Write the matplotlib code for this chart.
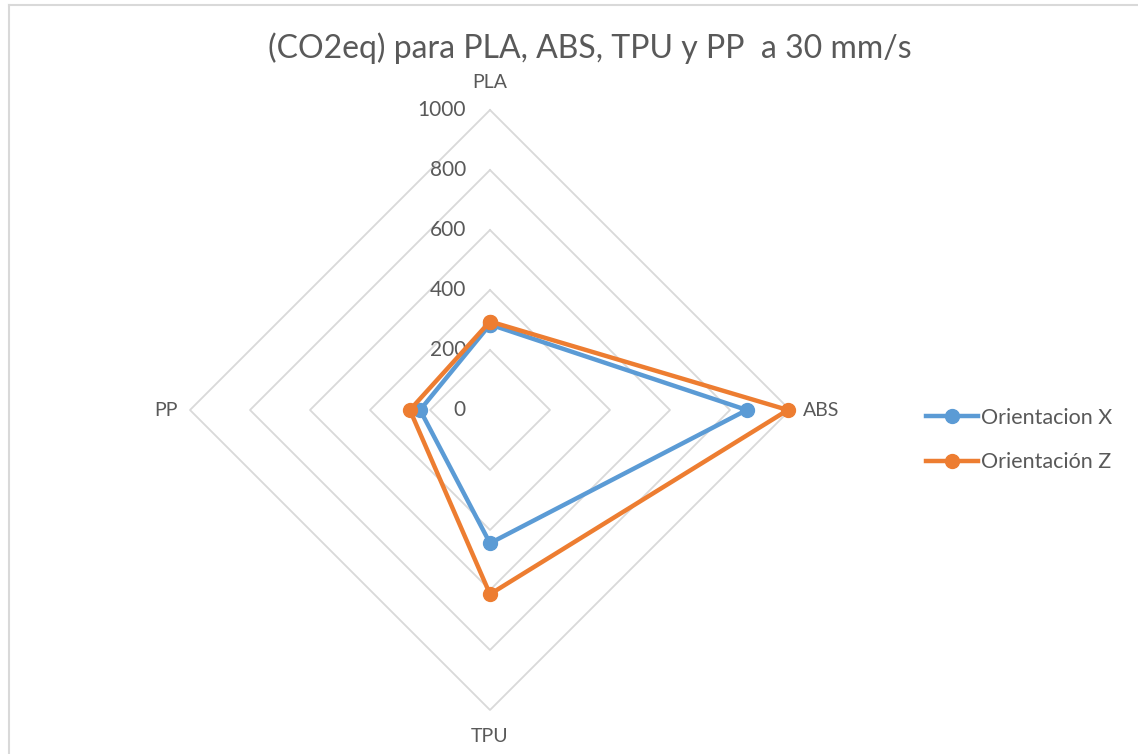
import numpy as np
import matplotlib.pyplot as plt
from matplotlib.lines import Line2D

categorias = ["PLA", "ABS", "TPU", "PP"]
orient_x = [285, 856, 444, 233]
orient_z = [295, 993, 614, 267]
ticks = [0, 200, 400, 600, 800, 1000]
series = ["Orientacion X", "Orientación Z"]

plt.rcParams['font.family'] = ['Lato', 'DejaVu Sans']
gris = '#595959'
azul = '#5B9BD5'
naranja = '#ED7D31'

fig = plt.figure(figsize=(11.38, 7.54), dpi=100)
ax = fig.add_axes([70 / 1138, 14 / 754, 840 / 1138, 675 / 754])
ax.set_xlim(-1400, 1400)
ax.set_ylim(-1100, 1150)
ax.axis('off')

n = len(categorias)
ang = np.arange(n) * 2 * np.pi / n  # PLA arriba, sentido horario


def xy(vals):
    v = np.array(list(vals) + [vals[0]], dtype=float)
    a = np.append(ang, ang[0])
    return v * np.sin(a), v * np.cos(a)


# rejilla en forma de rombo
for t in ticks[1:]:
    gx, gy = xy([t] * n)
    ax.plot(gx, gy, color='#d9d9d9', lw=1.3, zorder=1)
    ax.text(-80, t, str(t), ha='right', va='center', fontsize=15, color=gris)
ax.text(-80, 0, "0", ha='right', va='center', fontsize=15, color=gris)

# etiquetas de categorias
ax.text(0, 1093, categorias[0], ha='center', va='center', fontsize=14, color=gris)
ax.text(1043, 0, categorias[1], ha='left', va='center', fontsize=14, color=gris)
ax.text(0, -1090, categorias[2], ha='center', va='center', fontsize=14, color=gris)
ax.text(-1040, 0, categorias[3], ha='right', va='center', fontsize=14, color=gris)

for vals, c in [(orient_x, azul), (orient_z, naranja)]:
    px, py = xy(vals)
    ax.plot(px, py, color=c, lw=3.2, marker='o', markersize=10, zorder=3)

handles = [Line2D([], [], color=azul, lw=3.2, marker='o', markersize=10),
           Line2D([], [], color=naranja, lw=3.2, marker='o', markersize=10)]
fig.legend(handles, series, loc='center left', bbox_to_anchor=(907 / 1138, 1 - 440 / 754),
           frameon=False, fontsize=15.5, labelcolor=gris, handlelength=2.4,
           handletextpad=0.12, labelspacing=1.15)

fig.text(590 / 1138, 1 - 48 / 754, "(CO2eq) para PLA, ABS, TPU y PP  a 30 mm/s",
         ha='center', va='center', fontsize=23, color=gris)

# marco del grafico
fig.add_artist(Line2D([9 / 1138, 9 / 1138], [0, 1 - 5 / 754], color='#d9d9d9', lw=1.5))
fig.add_artist(Line2D([9 / 1138, 1], [1 - 5 / 754, 1 - 5 / 754], color='#d9d9d9', lw=1.5))

fig.savefig("out.png", dpi=100)
